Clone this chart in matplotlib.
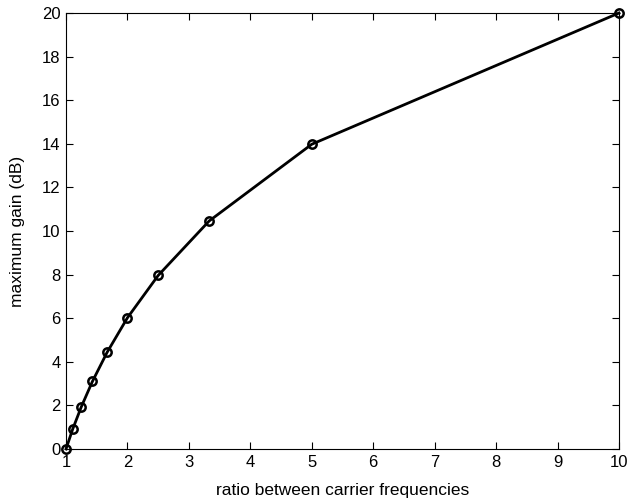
import matplotlib
matplotlib.use("Agg")
import matplotlib.pyplot as plt

# ratio between carrier frequencies and max gain
ratio = [1.0, 1.11, 1.25, 1.43, 1.67, 2.0, 2.5, 3.33, 5.0, 10.0]
gain_db = [0.0, 0.92, 1.94, 3.1, 4.44, 6.02, 7.96, 10.46, 13.98, 20.0]

x_ticks = list(range(1, 11))
y_ticks = list(range(0, 21, 2))

plt.rcParams['font.family'] = ['Liberation Sans', 'DejaVu Sans']

fig = plt.figure(figsize=(6.42, 5.04), dpi=100)
ax = fig.add_axes([66 / 642, 1 - 449 / 504, (619 - 66) / 642, (449 - 13) / 504])

ax.plot(ratio, gain_db, color='black', linewidth=2, marker='o',
        markersize=6, markerfacecolor='none', markeredgewidth=1.8, clip_on=False, zorder=3)

ax.set_xlim(1, 10)
ax.set_ylim(0, 20)
ax.set_xticks(x_ticks)
ax.set_yticks(y_ticks)
ax.tick_params(direction='in', top=True, right=True, labelsize=12, length=5, width=0.8, pad=4)
for s in ax.spines.values():
    s.set_linewidth(0.8)

ax.set_xlabel("ratio between carrier frequencies", fontsize=12.5, labelpad=10)
ax.set_ylabel("maximum gain (dB)", fontsize=12.5, labelpad=12)

fig.savefig("out.png", dpi=100)
